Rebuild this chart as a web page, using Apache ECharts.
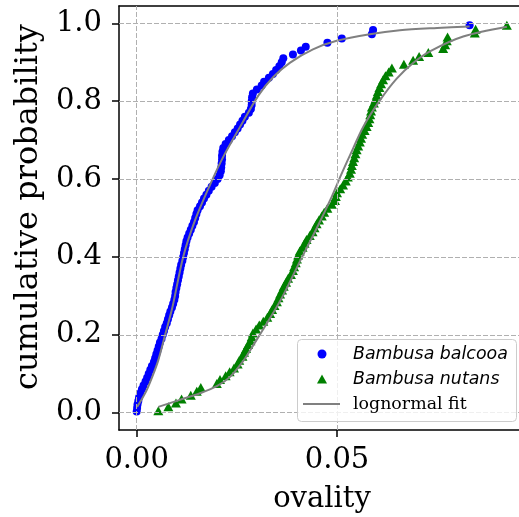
<!DOCTYPE html>
<html><head><meta charset="utf-8">
<script src="https://cdn.jsdelivr.net/npm/echarts@6/dist/echarts.min.js"></script>
<style>html,body{margin:0;padding:0;background:#fff}#c{width:519px;height:517px}</style>
</head><body><div id="c"></div><script>
// Bambusa balcooa: ovality and cumulative probability
const balcooaX = [0.0000,0.0001,0.0002,0.0004,0.0006,0.0009,0.0013,0.0017,0.0022,0.0026,
0.0030,0.0034,0.0038,0.0043,0.0046,0.0049,0.0052,0.0055,0.0058,0.0062,
0.0065,0.0068,0.0071,0.0075,0.0078,0.0081,0.0084,0.0088,0.0091,0.0094,
0.0096,0.0097,0.0099,0.0101,0.0103,0.0105,0.0107,0.0109,0.0111,0.0114,
0.0116,0.0118,0.0120,0.0122,0.0124,0.0127,0.0131,0.0135,0.0139,0.0143,
0.0146,0.0149,0.0152,0.0158,0.0163,0.0168,0.0174,0.0180,0.0187,0.0195,
0.0202,0.0207,0.0210,0.0211,0.0212,0.0213,0.0213,0.0214,0.0216,0.0222,
0.0230,0.0238,0.0245,0.0252,0.0258,0.0264,0.0270,0.0280,0.0285,0.0287,
0.0287,0.0288,0.0290,0.0300,0.0312,0.0318,0.0330,0.0340,0.0348,0.0356,
0.0362,0.0366,0.0390,0.0410,0.0422,0.0476,0.0512,0.0587,0.0590,0.0831];
const balcooaP = [0.003,0.012,0.021,0.030,0.040,0.050,0.060,0.070,0.080,0.090,
0.100,0.110,0.120,0.130,0.140,0.150,0.160,0.170,0.180,0.190,
0.200,0.210,0.220,0.230,0.240,0.250,0.260,0.270,0.280,0.290,
0.300,0.310,0.320,0.330,0.340,0.350,0.360,0.370,0.380,0.390,
0.400,0.410,0.420,0.430,0.440,0.450,0.460,0.470,0.480,0.490,
0.500,0.510,0.520,0.530,0.540,0.550,0.560,0.570,0.580,0.590,
0.600,0.610,0.620,0.630,0.640,0.650,0.660,0.670,0.680,0.690,
0.700,0.710,0.720,0.730,0.740,0.750,0.760,0.770,0.780,0.790,
0.800,0.810,0.820,0.830,0.840,0.850,0.860,0.870,0.880,0.890,
0.900,0.910,0.920,0.930,0.940,0.950,0.961,0.972,0.983,0.995];
// Bambusa nutans
const nutansX = [0.0054,0.0079,0.0098,0.0112,0.0135,0.0150,0.0160,0.0200,0.0208,0.0222,
0.0232,0.0243,0.0252,0.0256,0.0264,0.0268,0.0273,0.0278,0.0284,0.0287,
0.0290,0.0298,0.0306,0.0316,0.0326,0.0333,0.0338,0.0344,0.0350,0.0354,
0.0358,0.0363,0.0367,0.0373,0.0378,0.0385,0.0390,0.0393,0.0397,0.0400,
0.0403,0.0407,0.0414,0.0419,0.0424,0.0432,0.0439,0.0444,0.0449,0.0455,
0.0462,0.0468,0.0476,0.0487,0.0495,0.0497,0.0500,0.0508,0.0515,0.0522,
0.0527,0.0532,0.0535,0.0537,0.0540,0.0543,0.0546,0.0549,0.0553,0.0557,
0.0560,0.0563,0.0569,0.0574,0.0578,0.0581,0.0583,0.0585,0.0587,0.0592,
0.0596,0.0599,0.0602,0.0606,0.0610,0.0615,0.0621,0.0629,0.0637,0.0667,
0.0690,0.0705,0.0728,0.0765,0.0770,0.0774,0.0776,0.0844,0.0846,0.0924];
const nutansP = [0.005,0.015,0.025,0.035,0.045,0.055,0.065,0.075,0.085,0.095,
0.105,0.115,0.125,0.135,0.145,0.155,0.165,0.175,0.185,0.195,
0.205,0.215,0.225,0.235,0.245,0.255,0.265,0.275,0.285,0.295,
0.305,0.315,0.325,0.335,0.345,0.355,0.365,0.375,0.385,0.395,
0.405,0.415,0.425,0.435,0.445,0.455,0.465,0.475,0.485,0.495,
0.505,0.515,0.525,0.535,0.545,0.555,0.565,0.575,0.585,0.595,
0.605,0.615,0.625,0.635,0.645,0.655,0.665,0.675,0.685,0.695,
0.705,0.715,0.725,0.735,0.745,0.755,0.765,0.775,0.785,0.795,
0.805,0.815,0.825,0.835,0.845,0.855,0.865,0.875,0.885,0.895,
0.905,0.915,0.925,0.935,0.945,0.955,0.965,0.975,0.985,0.995];
// lognormal fit curves
const balcooaFitX = [0.0001,0.0010,0.0025,0.0040,0.0054,0.0071,0.0089,0.0116,0.0146,0.0183,0.0216,0.0258,0.0304,0.0341,0.0383,0.0440,0.0499,0.0582,0.0657,0.0750,0.0831];
const balcooaFitP = [0.015,0.030,0.058,0.095,0.135,0.200,0.270,0.400,0.495,0.585,0.657,0.734,0.815,0.862,0.899,0.933,0.955,0.972,0.982,0.988,0.992];
const nutansFitX = [0.0054,0.0108,0.0158,0.0200,0.0233,0.0266,0.0295,0.0333,0.0366,0.0408,0.0449,0.0487,0.0510,0.0532,0.0566,0.0607,0.0649,0.0690,0.0732,0.0815,0.0924];
const nutansFitP = [0.015,0.033,0.050,0.068,0.092,0.133,0.180,0.243,0.302,0.390,0.473,0.555,0.610,0.660,0.735,0.802,0.858,0.898,0.928,0.966,0.991];
const xTicks = [0, 0.05];
const yTicks = [0, 0.2, 0.4, 0.6, 0.8, 1.0];

const pair = (xs, ys) => xs.map((x, i) => [x, ys[i]]);
const serif = 'DejaVu Serif';
const XMIN = -0.004418, XMAX = 0.09693, YMIN = -0.0444, YMAX = 1.0444;
const axisLineStyle = {color: '#000', width: 1.5};
const chart = echarts.init(document.getElementById('c'), null, {renderer: 'canvas'});
chart.setOption({
  animation: false,
  backgroundColor: '#fff',
  grid: {left: 119, right: -6, top: 6, bottom: 87, outerBoundsMode: 'none'},
  xAxis: [{
    type: 'value', min: XMIN, max: XMAX, position: 'bottom',
    axisLine: {show: true, onZero: false, lineStyle: axisLineStyle},
    axisTick: {show: true, length: 7, customValues: xTicks, lineStyle: axisLineStyle},
    axisLabel: {customValues: xTicks, formatter: v => v.toFixed(2), fontFamily: serif, fontSize: 29, color: '#000', margin: 16},
    splitLine: {show: false},
    name: 'ovality', nameLocation: 'middle', nameGap: 55,
    nameTextStyle: {fontFamily: serif, fontSize: 29, color: '#000'}
  }, {
    type: 'value', min: XMIN, max: XMAX, position: 'top',
    axisLine: {show: true, onZero: false, lineStyle: axisLineStyle},
    axisTick: {show: false}, axisLabel: {show: false}, splitLine: {show: false}
  }],
  yAxis: {
    type: 'value', min: YMIN, max: YMAX,
    axisLine: {show: true, onZero: false, lineStyle: axisLineStyle},
    axisTick: {show: true, length: 7, customValues: yTicks, lineStyle: axisLineStyle},
    axisLabel: {customValues: yTicks, formatter: v => v.toFixed(1), fontFamily: serif, fontSize: 29, color: '#000', margin: 17},
    splitLine: {show: false},
    name: 'cumulative probability', nameLocation: 'middle', nameGap: 64,
    nameTextStyle: {fontFamily: serif, fontSize: 32, color: '#000', padding: [0, 0, 0, 22]}
  },
  legend: [
    {data: [{name: 'Bambusa balcooa', icon: 'circle'}], left: 317.5, top: 345.5, padding: 0,
     itemWidth: 9, itemHeight: 9, selectedMode: false, z: 60,
     textStyle: {fontFamily: 'DejaVu Sans', fontStyle: 'italic', fontSize: 17.4, color: '#000', padding: [0, 0, 0, 21.5]}},
    {data: [{name: 'Bambusa nutans', icon: 'triangle'}], left: 317, top: 370.5, padding: 0,
     itemWidth: 10, itemHeight: 9, selectedMode: false, z: 60,
     textStyle: {fontFamily: 'DejaVu Sans', fontStyle: 'italic', fontSize: 17.4, color: '#000', padding: [0, 0, 0, 21]}},
    {data: [{name: 'lognormal fit', icon: 'rect'}], left: 303, top: 395.5, padding: 0,
     itemWidth: 37, itemHeight: 2.2, selectedMode: false, z: 60,
     textStyle: {fontFamily: serif, fontSize: 17.4, color: '#000', padding: [0, 0, 0, 8]}}
  ],
  graphic: [{
    type: 'rect', z: 50,
    shape: {x: 297.5, y: 339.5, width: 219, height: 82, r: 4},
    style: {fill: 'rgba(255,255,255,0.8)', stroke: '#cccccc', lineWidth: 1}
  }],
  series: [
    {type: 'line', name: 'gridlines', data: [], z: 1, silent: true,
     markLine: {silent: true, symbol: 'none', animation: false, label: {show: false},
       lineStyle: {color: '#b0b0b0', type: [5, 2], width: 1},
       emphasis: {disabled: true},
       data: xTicks.map(v => ({xAxis: v})).concat(yTicks.map(v => ({yAxis: v})))}},
    {type: 'scatter', name: 'Bambusa balcooa', data: pair(balcooaX, balcooaP), symbol: 'circle', symbolSize: 8,
     itemStyle: {color: '#0000ff', opacity: 1}, z: 3},
    {type: 'scatter', name: 'Bambusa nutans', data: pair(nutansX, nutansP), symbol: 'triangle', symbolSize: [10, 9],
     itemStyle: {color: '#008000', opacity: 1}, z: 3},
    {type: 'line', name: 'lognormal fit', data: pair(balcooaFitX, balcooaFitP), smooth: 0.3, symbol: 'none',
     showSymbol: false, lineStyle: {color: '#808080', width: 2}, itemStyle: {color: '#808080'}, z: 4},
    {type: 'line', name: 'lognormal fit', data: pair(nutansFitX, nutansFitP), smooth: 0.3, symbol: 'none',
     showSymbol: false, lineStyle: {color: '#808080', width: 2}, itemStyle: {color: '#808080'}, z: 4}
  ]
});
</script></body></html>
